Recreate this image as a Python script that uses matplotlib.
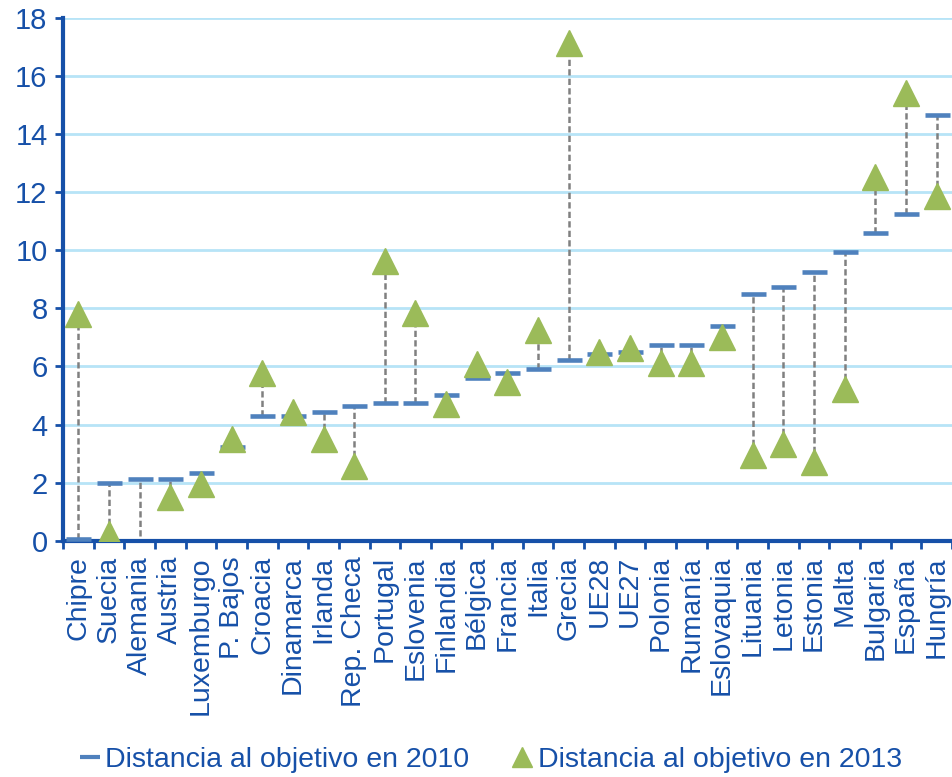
import numpy as np
import matplotlib.pyplot as plt
from matplotlib.lines import Line2D

plt.rcParams['font.family'] = ['Liberation Sans', 'DejaVu Sans']

# categories and values
paises = ["Chipre", "Suecia", "Alemania", "Austria", "Luxemburgo", "P. Bajos",
          "Croacia", "Dinamarca", "Irlanda", "Rep. Checa", "Portugal", "Eslovenia",
          "Finlandia", "Bélgica", "Francia", "Italia", "Grecia", "UE28", "UE27",
          "Polonia", "Rumanía", "Eslovaquia", "Lituania", "Letonia", "Estonia",
          "Malta", "Bulgaria", "España", "Hungría"]
dist_2010 = [0.05, 2.0, 2.13, 2.13, 2.34, 3.23, 4.3, 4.3, 4.43, 4.65, 4.75, 4.75,
             5.03, 5.6, 5.78, 5.93, 6.24, 6.43, 6.51, 6.75, 6.75, 7.4, 8.5, 8.75,
             9.26, 9.95, 10.6, 11.25, 14.64]
dist_2013 = [7.8, 0.23, -0.5, 1.51, 1.96, 3.52, 5.76, 4.42, 3.52, 2.57, 9.63, 7.85,
             4.72, 6.08, 5.47, 7.26, 17.13, 6.51, 6.64, 6.13, 6.13, 7.01, 2.94, 3.32,
             2.71, 5.23, 12.52, 15.42, 11.86]
y_ticks = [0, 2, 4, 6, 8, 10, 12, 14, 16, 18]

azul = '#1650A8'
col10 = '#4F81BD'
col13 = '#9BBB59'

fig = plt.figure(figsize=(9.53, 7.77), dpi=100)
ax = fig.add_axes([0.066, 0.304, 0.933, 0.673])

x = np.arange(len(paises))
lo = np.minimum(dist_2010, dist_2013)
hi = np.maximum(dist_2010, dist_2013)
ax.vlines(x, lo, hi, colors='#808080', linestyles=(0, (2.5, 1.3)), linewidth=1.8, zorder=2)
ax.plot(x, dist_2010, linestyle='none', marker='_', markersize=18,
        markeredgewidth=3.3, color=col10, zorder=3)
ax.plot(x, dist_2013, linestyle='none', marker='^', markersize=18.5,
        color=col13, markeredgecolor=col13, zorder=4)

ax.set_xlim(-0.5, len(paises) - 0.5)
ax.set_ylim(0, 18)
ax.set_yticks(y_ticks)
ax.yaxis.grid(True, color='#B7E4F7', linewidth=2)
ax.set_axisbelow(True)

ax.set_xticks(x)
ax.set_xticklabels(paises, rotation=90, fontsize=20.5, color=azul)
ax.set_xticks(np.arange(-0.5, len(paises)), minor=True)
ax.tick_params(axis='x', which='major', length=0, pad=11)
ax.tick_params(axis='x', which='minor', length=6, width=2, color=azul, direction='out')
ax.tick_params(axis='y', length=6, width=2, color=azul, labelsize=21,
               labelcolor=azul, pad=5)

for s in ['top', 'right']:
    ax.spines[s].set_visible(False)
for s in ['left', 'bottom']:
    ax.spines[s].set_color(azul)
    ax.spines[s].set_linewidth(3)

handles = [Line2D([], [], linestyle='none', marker='_', markersize=14,
                  markeredgewidth=3, color=col10),
           Line2D([], [], linestyle='none', marker='^', markersize=15, color=col13)]
fig.legend(handles, ["Distancia al objetivo en 2010", "Distancia al objetivo en 2013"],
           loc='center', bbox_to_anchor=(0.515, 0.022), ncol=2, frameon=False,
           fontsize=20.5, labelcolor=azul, handlelength=0.7, handletextpad=0.2,
           columnspacing=1.5)

fig.savefig('out.png', dpi=100)
